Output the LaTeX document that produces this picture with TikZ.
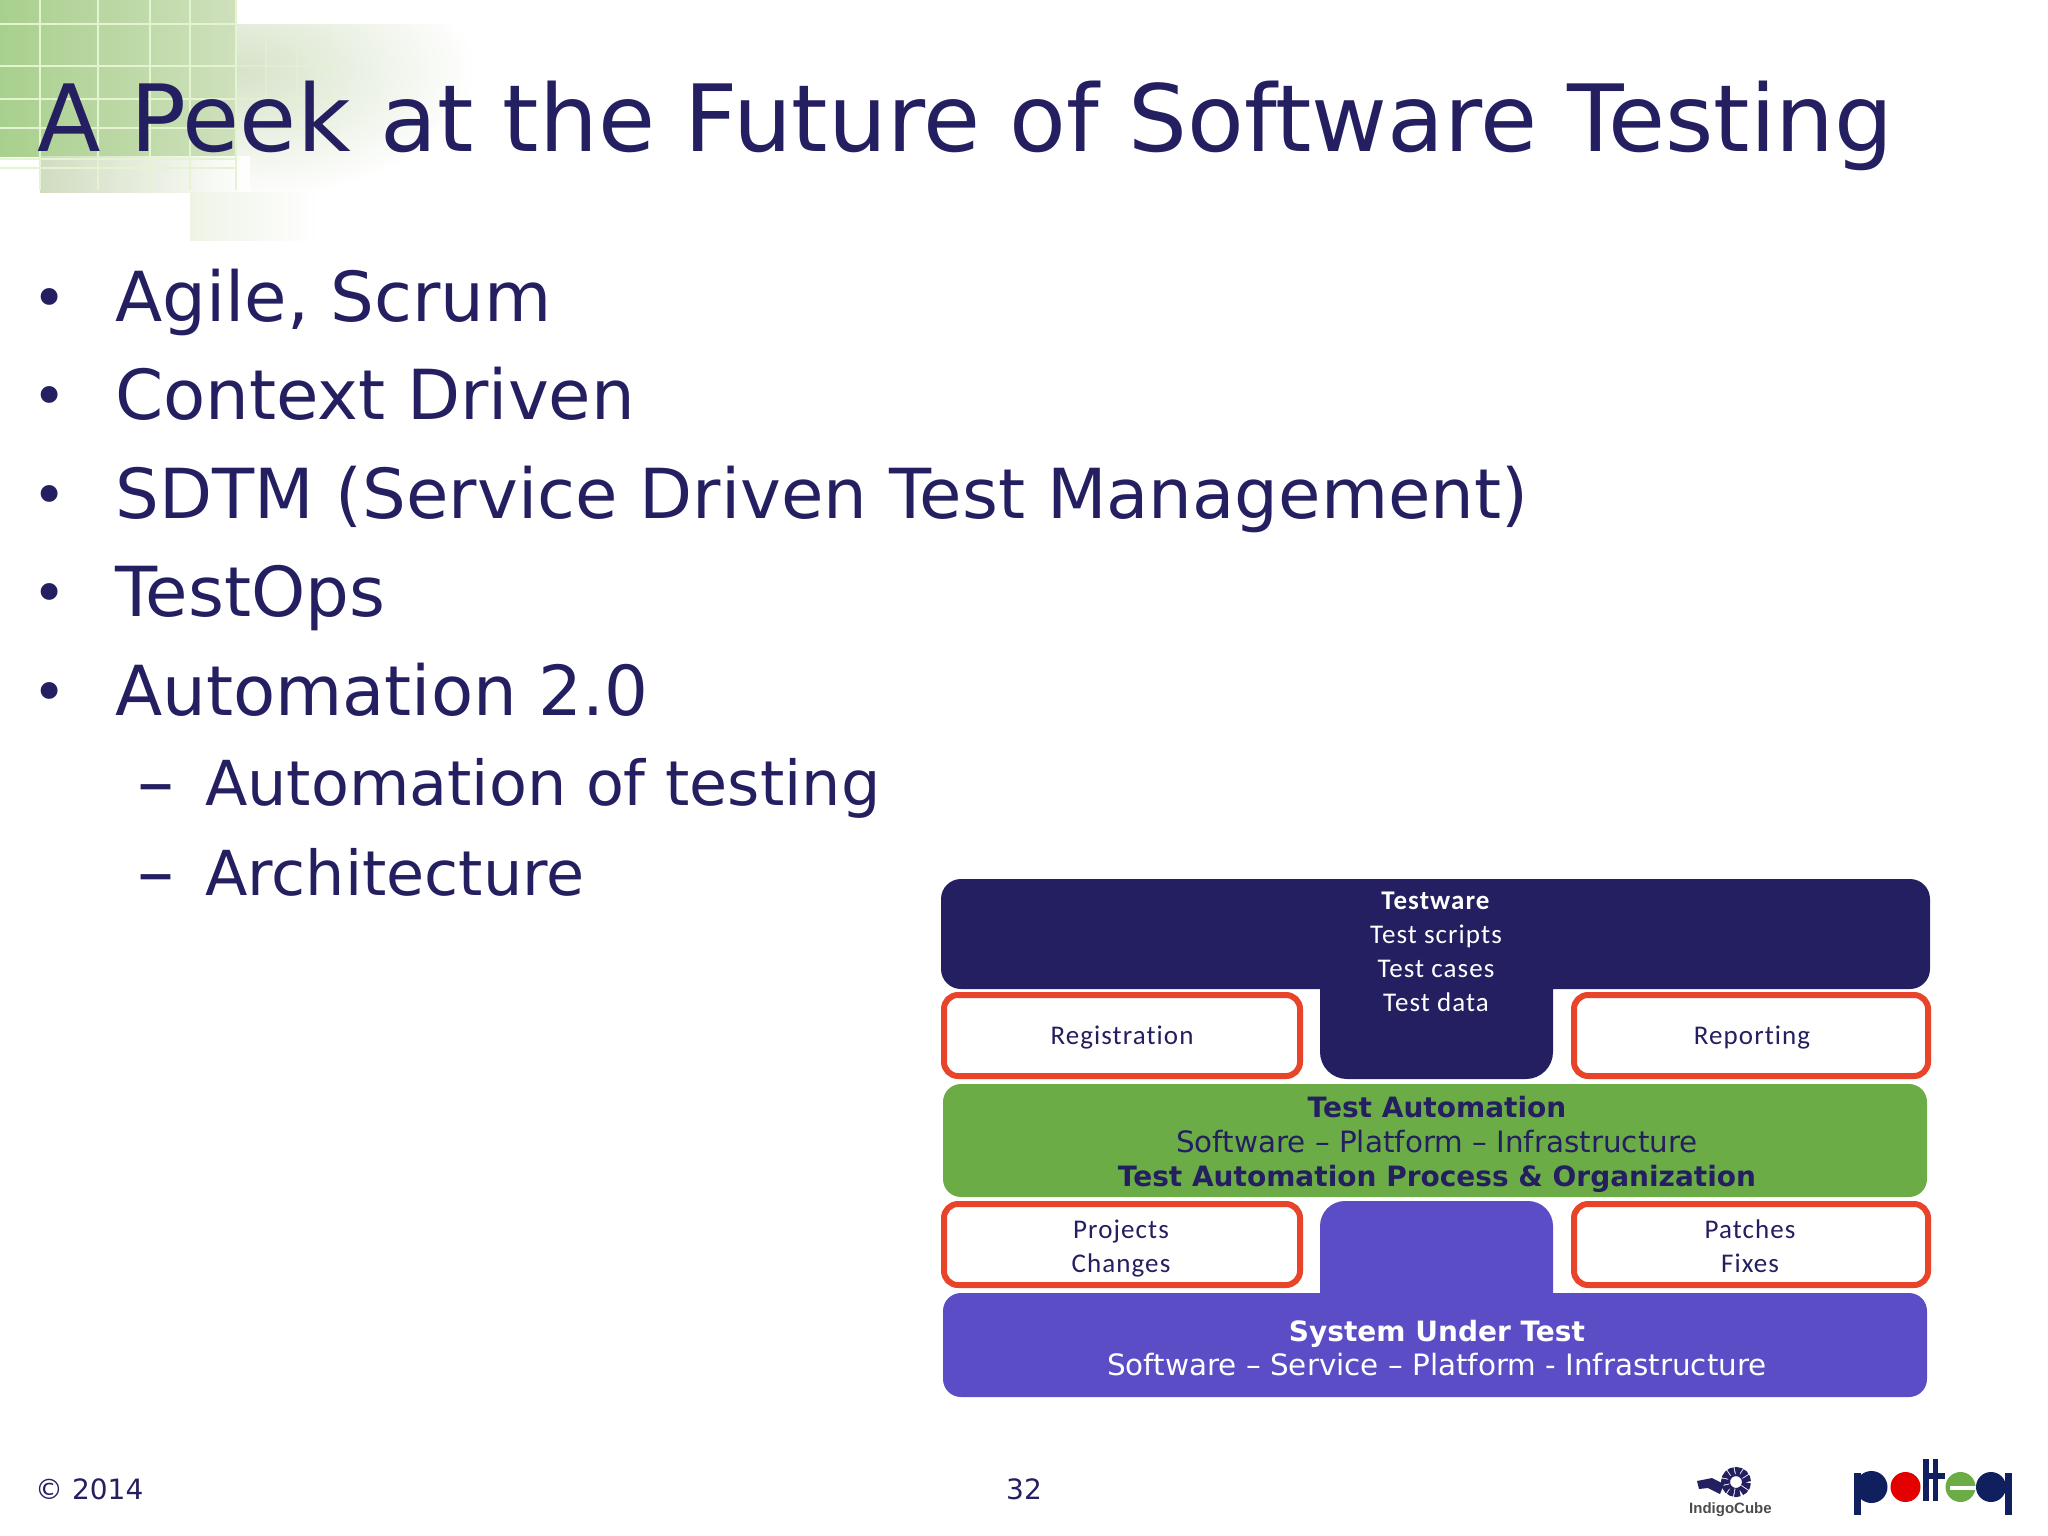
\documentclass[tikz,border=0pt]{standalone}
\usepackage{fontspec}
\setmainfont{DejaVu Sans}
\newfontfamily\boxfont[LetterSpace=4,Ligatures=NoCommon]{Carlito}
\newfontfamily\logofont{Liberation Sans}
\definecolor{navy}{HTML}{241F60}
\definecolor{violet}{HTML}{5B4DC6}
\definecolor{leaf}{HTML}{6CAC46}
\definecolor{redline}{HTML}{E8442A}
\definecolor{polblue}{HTML}{10205F}
\definecolor{cornerdark}{HTML}{A8D08D}
\definecolor{cornerpale}{HTML}{CFE0BC}
\definecolor{cornerfade}{HTML}{D6E2C8}
\definecolor{cornerstrip}{HTML}{D0DCC0}
\definecolor{cornerlow}{HTML}{EEF3E6}
\definecolor{gridpale}{HTML}{E4F4D0}
\newcommand{\barbold}[1]{{\fontsize{28}{34.5}\selectfont\bfseries #1}}
\tikzset{
  title/.style={anchor=base west, inner sep=0pt, text=navy, font=\fontsize{92.8}{92.8}\selectfont},
  bullet/.style={anchor=base west, inner sep=0pt, text=navy, font=\fontsize{69}{69}\selectfont},
  dot/.style={anchor=base west, inner sep=0pt, text=navy, font=\fontsize{58}{58}\selectfont},
  subbullet/.style={anchor=base west, inner sep=0pt, text=navy, font=\fontsize{62}{62}\selectfont},
  dash sign/.style={anchor=base west, inner sep=0pt, text=navy, font=\fontsize{74}{74}\selectfont},
  footer/.style={anchor=base, inner sep=0pt, text=navy, font=\fontsize{28}{28}\selectfont},
  redbox/.style={draw=redline, line width=6pt, fill=white, rounded corners=14pt, minimum width=356pt,
    minimum height=81pt, inner sep=0pt},
  boxtext/.style={inner sep=0pt, align=center, font=\boxfont\fontsize{27}{34}\selectfont},
  bar/.style={rounded corners=18pt, minimum width=984pt, inner sep=0pt},
  bartext/.style={inner sep=0pt, align=center, font=\fontsize{29.4}{34.5}\selectfont},
  patch/.style={left color=#1, right color=white, draw=none},
  gridline/.style={gridpale, line width=2pt},
}
\begin{document}
\begin{tikzpicture}[x=1pt, y=-1pt]
  \useasboundingbox (0,0) rectangle (2048,1536);
  % corner pattern
  \begin{scope}
    \clip (236,25) rectangle (620,215);
    \shade[inner color=cornerfade, outer color=white] (236,70) ellipse (240pt and 130pt);
  \end{scope}
  \path[left color=cornerdark, right color=cornerpale] (0,0) rectangle (236,157);
  \path[patch=cornerstrip] (40,157) rectangle (250,192);
  \path[patch=cornerlow] (190,192) rectangle (320,240);
  \foreach \gx in {40,98,150,190,236} \draw[gridline] (\gx,0) -- (\gx,190);
  \foreach \gx in {266,297,330} \draw[gridline, opacity=.5] (\gx,25) -- (\gx,130);
  \foreach \gy in {24,66} \draw[gridline] (0,\gy) -- (236,\gy);
  \foreach \gy in {99,128,159,168} \draw[gridline] (0,\gy) -- (236,\gy);
  \foreach \gy in {66,99,128} \draw[gridline, opacity=.5] (236,\gy) -- (340,\gy);

  \node[title] (heading) at (37,152) {A Peek at the Future of Software Testing};

  \node[dot] (b0) at (32,318.5) {•};
  \node[bullet] (t0) at (115,321) {Agile, Scrum};
  \node[dot] (b1) at (32,416.5) {•};
  \node[bullet] (t1) at (115,419) {Context Driven};
  \node[dot] (b2) at (32,515.5) {•};
  \node[bullet] (t2) at (115,518) {SDTM (Service Driven Test Management)};
  \node[dot] (b3) at (32,613.5) {•};
  \node[bullet] (t3) at (115,616) {TestOps};
  \node[dot] (b4) at (32,712.5) {•};
  \node[bullet] (t4) at (115,715) {Automation 2.0};
  \node[dash sign] (d0) at (137,807) {–};
  \node[subbullet] (s0) at (205,805) {Automation of testing};
  \node[dash sign] (d1) at (137,897) {–};
  \node[subbullet] (s1) at (205,895) {Architecture};

  % stack
  \fill[navy] (1400,879) [rounded corners=20pt] -- (1930,879) -- (1930,989) [sharp corners] -- (1553,989)
    [rounded corners=27pt] -- (1553,1079) -- (1320,1079) [sharp corners] -- (1320,989)
    [rounded corners=20pt] -- (941,989) -- (941,879) -- cycle;
  \node[boxtext, text=white] (testware) at (1436,951.5)
    {\textbf{Testware}\\Test scripts\\Test cases\\Test data};
  \node[redbox] (registration) at (1122,1035.5) {};
  \node[boxtext, text=navy] (registrationtext) at (1122,1038) {Registration};
  \node[redbox, minimum width=354pt] (reporting) at (1751,1035.5) {};
  \node[boxtext, text=navy] (reportingtext) at (1752,1038) {Reporting};
  \node[bar, fill=leaf, minimum height=113pt] (automation) at (1435,1140.5) {};
  \node[bartext, text=navy] (automationtext) at (1437,1144.5)
    {\barbold{Test Automation}\\Software – Platform – Infrastructure\\\barbold{Test Automation Process \& Organization}};
  \node[redbox] (projects) at (1122,1244.5) {};
  \node[boxtext, text=navy] (projectstext) at (1121,1249) {Projects\\Changes};
  \node[redbox, minimum width=354pt] (patches) at (1751,1244.5) {};
  \node[boxtext, text=navy] (patchestext) at (1750,1246) {Patches\\Fixes};
  \fill[violet] (1320,1320) [rounded corners=25pt] -- (1320,1201) -- (1553,1201) [sharp corners] -- (1553,1320) -- cycle;
  \node[bar, fill=violet, minimum height=104pt] (sut) at (1435,1345) {};
  \node[bartext, text=white] (suttext) at (1437,1348)
    {\barbold{System Under Test}\\Software – Service – Platform - Infrastructure};

  % footer
  \node[footer, anchor=base west] (copyright) at (35,1499) {© 2014};
  \node[footer] (pagenum) at (1024,1499) {32};

  % logos
  \draw[navy, line width=9pt, dash pattern=on 5pt off 1pt] (1736,1482) circle (10.5pt);
  \fill[navy] (1697,1481) -- (1712,1478) -- (1724,1484) -- (1720,1494) -- (1708,1488) -- (1699,1489) -- cycle;
  \node[anchor=base west, inner sep=0pt, text=black!70, font=\logofont\bfseries\fontsize{15}{16}\selectfont] (indigo) at (1689,1513) {IndigoCube};
  \fill[polblue] (1871.5,1487) circle (16pt);
  \fill[polblue] (1854,1473) rectangle (1861,1515);
  \fill[red!90!black] (1905.5,1487) circle (15pt);
  \fill[polblue] (1923,1459) rectangle (1929,1501);
  \fill[polblue] (1933,1459) rectangle (1938,1501);
  \fill[polblue] (1929,1473) rectangle (1945,1479);
  \fill[leaf] (1960.5,1487) circle (15pt);
  \fill[white] (1950,1486) rectangle (1976,1490);
  \fill[polblue] (1991,1487) circle (15pt);
  \fill[polblue] (2005,1473) rectangle (2012,1515);
\end{tikzpicture}
\end{document}
